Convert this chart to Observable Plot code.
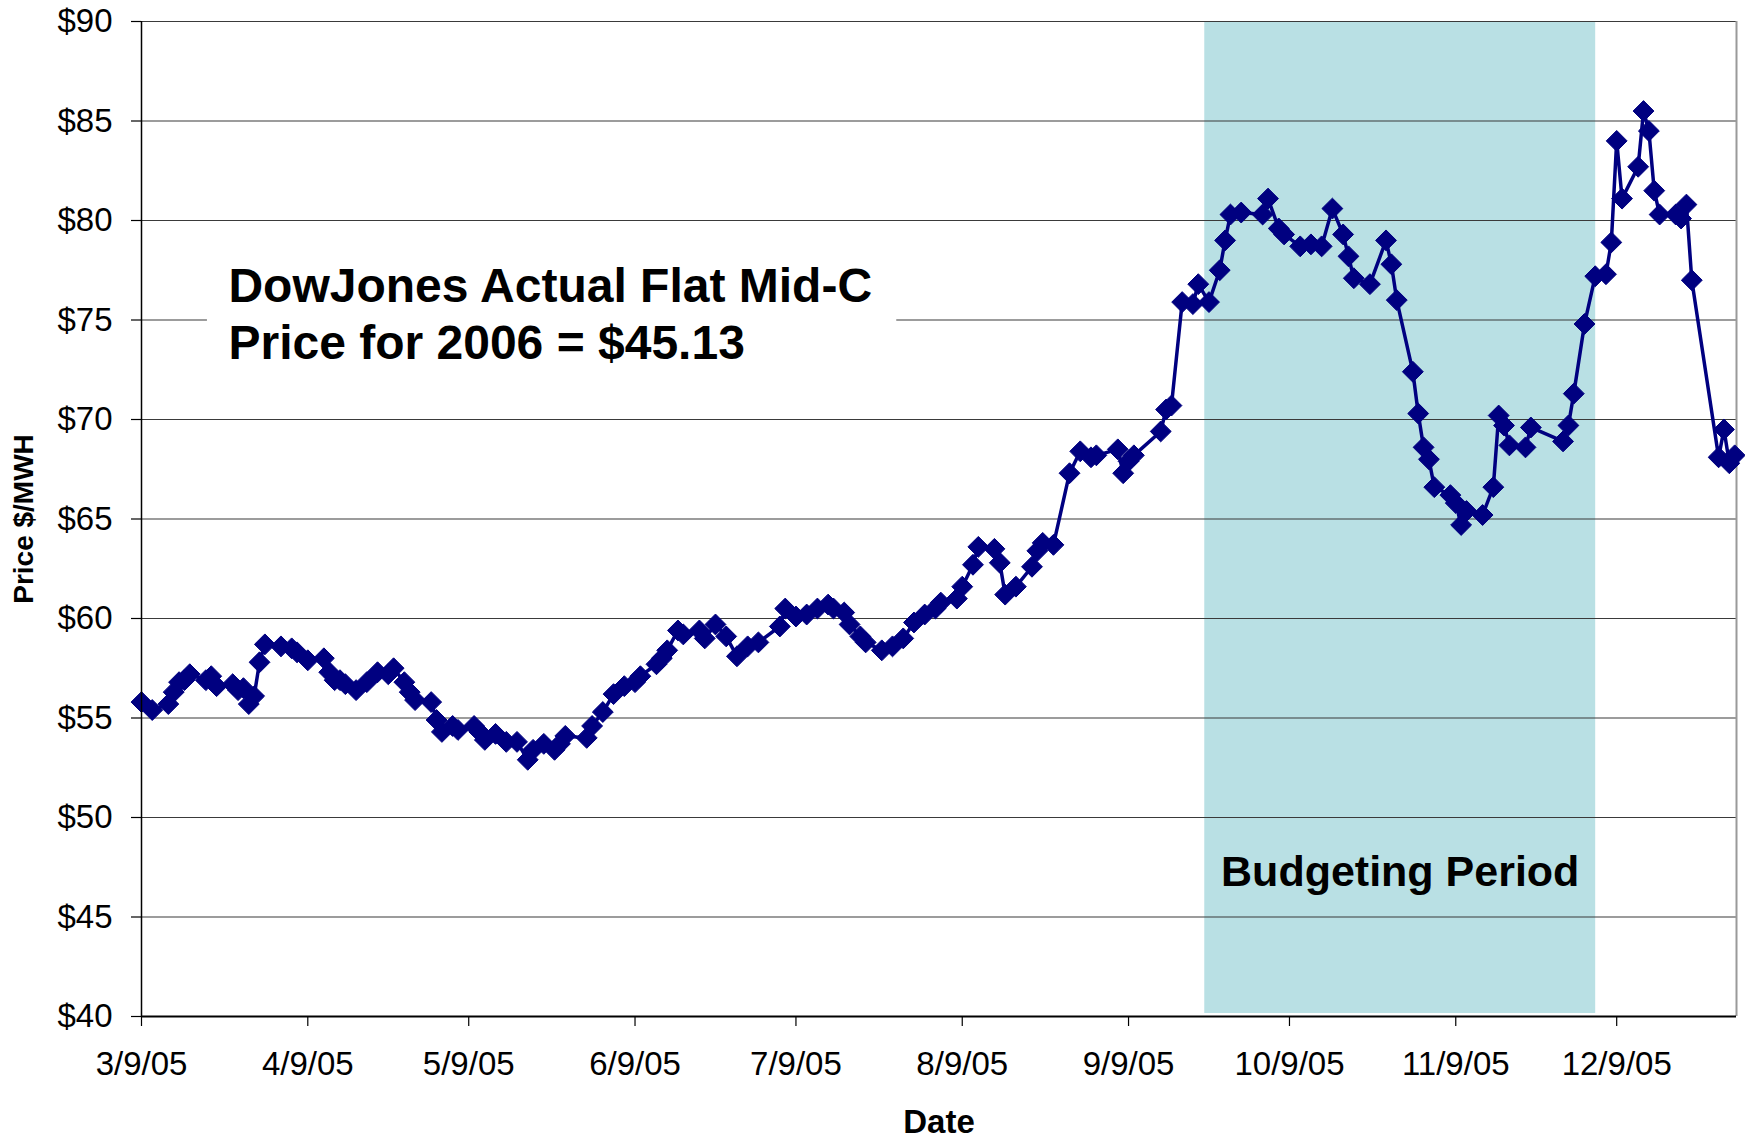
<!DOCTYPE html>
<html>
<head>
<meta charset="utf-8">
<script src="https://cdn.jsdelivr.net/npm/d3@7"></script>
<script src="https://cdn.jsdelivr.net/npm/@observablehq/plot@0.6"></script>
<style>
  html, body { margin: 0; padding: 0; background: #ffffff; }
  #chart svg { display: block; }
</style>
</head>
<body>
<div id="chart"></div>
<script>
// ---- Data ----
const dates = [
  "2005-03-09","2005-03-11","2005-03-14","2005-03-15","2005-03-16","2005-03-17","2005-03-18","2005-03-21","2005-03-22","2005-03-23","2005-03-26","2005-03-27","2005-03-28","2005-03-29","2005-03-30","2005-03-31",
  "2005-04-01","2005-04-04","2005-04-06","2005-04-07","2005-04-09","2005-04-12","2005-04-13","2005-04-14","2005-04-15","2005-04-16","2005-04-18","2005-04-20","2005-04-22","2005-04-24","2005-04-25","2005-04-27","2005-04-28","2005-04-29",
  "2005-05-02","2005-05-03","2005-05-04","2005-05-06","2005-05-07","2005-05-10","2005-05-11","2005-05-12","2005-05-14","2005-05-16","2005-05-18","2005-05-20","2005-05-21","2005-05-23","2005-05-25","2005-05-26","2005-05-27","2005-05-31",
  "2005-06-01","2005-06-03","2005-06-05","2005-06-07","2005-06-09","2005-06-10","2005-06-13","2005-06-14","2005-06-15","2005-06-17","2005-06-18","2005-06-21","2005-06-22","2005-06-24","2005-06-26","2005-06-28","2005-06-30",
  "2005-07-02","2005-07-06","2005-07-07","2005-07-09","2005-07-11","2005-07-13","2005-07-15","2005-07-16","2005-07-18","2005-07-19","2005-07-21","2005-07-22","2005-07-25","2005-07-27","2005-07-29","2005-07-31",
  "2005-08-02","2005-08-04","2005-08-05","2005-08-08","2005-08-09","2005-08-11","2005-08-12","2005-08-15","2005-08-16","2005-08-17","2005-08-19","2005-08-22","2005-08-23","2005-08-24","2005-08-26","2005-08-29","2005-08-31",
  "2005-09-02","2005-09-03","2005-09-07","2005-09-08","2005-09-09","2005-09-10","2005-09-15","2005-09-16","2005-09-17","2005-09-19","2005-09-21","2005-09-22","2005-09-24","2005-09-26","2005-09-27","2005-09-28","2005-09-30",
  "2005-10-04","2005-10-05","2005-10-07","2005-10-08","2005-10-11","2005-10-13","2005-10-15","2005-10-17","2005-10-19","2005-10-20","2005-10-21","2005-10-24","2005-10-27","2005-10-28","2005-10-29",
  "2005-11-01","2005-11-02","2005-11-03","2005-11-04","2005-11-05","2005-11-08","2005-11-09","2005-11-10","2005-11-11","2005-11-14","2005-11-16","2005-11-17","2005-11-18","2005-11-19","2005-11-22","2005-11-23","2005-11-29","2005-11-30",
  "2005-12-01","2005-12-03","2005-12-05","2005-12-07","2005-12-08","2005-12-09","2005-12-10","2005-12-13","2005-12-14","2005-12-15","2005-12-16","2005-12-17","2005-12-20","2005-12-21","2005-12-22","2005-12-23","2005-12-28","2005-12-29","2005-12-30","2005-12-31"
];
const prices = [
  55.8,55.4,55.7,56.3,56.8,56.9,57.2,56.9,57.1,56.6,56.7,56.4,56.5,55.7,56.1,57.8,
  58.7,58.6,58.5,58.3,57.9,58.0,57.3,56.9,56.9,56.7,56.4,56.8,57.3,57.2,57.5,56.8,56.3,55.9,
  55.8,54.9,54.3,54.6,54.4,54.6,54.3,53.9,54.2,53.8,53.8,52.9,53.4,53.7,53.4,53.7,54.1,54.0,
  54.6,55.3,56.2,56.6,56.8,57.1,57.7,58.0,58.4,59.4,59.2,59.4,59.0,59.7,59.1,58.1,58.6,
  58.8,59.6,60.5,60.1,60.2,60.5,60.7,60.5,60.3,59.7,59.1,58.8,58.4,58.6,59.0,59.8,
  60.2,60.5,60.8,61.0,61.6,62.7,63.6,63.5,62.8,61.2,61.6,62.6,63.4,63.8,63.7,67.3,68.4,
  68.1,68.2,68.5,67.3,67.9,68.2,69.4,70.5,70.7,75.9,75.8,76.8,75.9,77.5,79.0,80.3,80.4,
  80.3,81.1,79.6,79.3,78.7,78.8,78.7,80.6,79.3,78.2,77.1,76.8,79.0,77.8,76.0,
  72.4,70.3,68.6,68.0,66.6,66.2,65.8,64.7,65.4,65.2,66.6,70.2,69.7,68.7,68.6,69.6,68.9,69.7,
  71.3,74.8,77.2,77.3,78.9,84.0,81.1,82.7,85.5,84.5,81.5,80.3,80.3,80.1,80.8,77.0,68.1,69.5,67.8,68.2
];

const yTicks = [40, 45, 50, 55, 60, 65, 70, 75, 80, 85, 90];
const yTickLabels = ["$40","$45","$50","$55","$60","$65","$70","$75","$80","$85","$90"];
const xTickDates = ["2005-03-09","2005-04-09","2005-05-09","2005-06-09","2005-07-09","2005-08-09","2005-09-09","2005-10-09","2005-11-09","2005-12-09"];
const xTickLabels = ["3/9/05","4/9/05","5/9/05","6/9/05","7/9/05","8/9/05","9/9/05","10/9/05","11/9/05","12/9/05"];

const xStart = new Date("2005-03-09T00:00Z");
const xEnd = new Date("2005-12-31T08:00Z");
const budgetStart = new Date("2005-09-23T05:00Z");
const budgetEnd = new Date("2005-12-05T02:00Z");
const budgetLabel = "Budgeting Period";
const noteText = "DowJones Actual Flat Mid-C\nPrice for 2006 = $45.13";
const xTitle = "Date";
const yTitle = "Price $/MWH";

// ---- Build table ----
const data = dates.map((d, i) => ({date: new Date(d + "T00:00Z"), price: prices[i]}));
const xTickValues = xTickDates.map(d => new Date(d + "T00:00Z"));
const xLabelMap = new Map(xTickValues.map((d, i) => [+d, xTickLabels[i]]));
const yLabelMap = new Map(yTicks.map((v, i) => [v, yTickLabels[i]]));

const navy = "#000080";
const font = "'Liberation Sans', Arial, Helvetica, sans-serif";

// annotation placement (in data units)
const noteBox = {x1: new Date("2005-03-21T07:00Z"), x2: new Date("2005-07-27T19:00Z"), y1: 72.5, y2: 79.3};
const noteAnchor = {x: new Date("2005-03-25T05:00Z"), y: 75.4};
const budgetAnchor = {x: new Date((+budgetStart + +budgetEnd) / 2), y: 47.27};

const chart = Plot.plot({
  width: 1745,
  height: 1140,
  marginLeft: 141,
  marginRight: 9,
  marginTop: 21,
  marginBottom: 124,
  style: {fontFamily: font, background: "#ffffff", color: "#000000", overflow: "visible"},
  x: {type: "utc", domain: [xStart, xEnd]},
  y: {domain: [40, 90]},
  marks: [
    // budgeting period shading
    Plot.rect([{x1: budgetStart, x2: budgetEnd}], {x1: "x1", x2: "x2", y1: 40.15, y2: 90, fill: "#B9E0E4"}),
    // horizontal gridlines
    Plot.ruleY(yTicks.filter(v => v > 40), {stroke: "#3a3a3a", strokeWidth: 1.2}),
    // right border of plot area
    Plot.ruleX([xEnd], {stroke: "#9a9a9a", strokeWidth: 2}),
    // annotation box and text
    Plot.rect([noteBox], {x1: "x1", x2: "x2", y1: "y1", y2: "y2", fill: "#ffffff"}),
    Plot.text([noteAnchor], {x: "x", y: "y", text: () => noteText, textAnchor: "start", lineAnchor: "middle",
      lineHeight: 1.19, fontSize: 48, fontWeight: "bold", fill: "#000000"}),
    Plot.text([budgetAnchor], {x: "x", y: "y", text: () => budgetLabel, textAnchor: "middle", lineAnchor: "middle",
      fontSize: 43, fontWeight: "bold", fill: "#000000"}),
    // data series
    Plot.line(data, {x: "date", y: "price", stroke: navy, strokeWidth: 3.5, strokeLinejoin: "round"}),
    Plot.dot(data, {x: "date", y: "price", symbol: "diamond2", r: 9.4, fill: navy, stroke: navy, strokeWidth: 1}),
    // axes
    Plot.axisY({ticks: yTicks, tickFormat: v => yLabelMap.get(v), tickSize: 10, tickPadding: 19,
      fontSize: 33, label: null, stroke: "#000000", strokeWidth: 1.2}),
    Plot.axisX({ticks: xTickValues, tickFormat: d => xLabelMap.get(+d), tickSize: 10, tickPadding: 25,
      fontSize: 33, label: null, stroke: "#000000", strokeWidth: 1.2}),
    Plot.ruleX([xStart], {stroke: "#000000", strokeWidth: 1.5}),
    Plot.ruleY([40], {stroke: "#000000", strokeWidth: 2.2}),
    // axis titles
    Plot.text([xTitle], {frameAnchor: "bottom", dy: 106, text: d => d, fontSize: 33, fontWeight: "bold", lineAnchor: "middle", textAnchor: "middle"}),
    Plot.text([yTitle], {frameAnchor: "left", dx: -117, rotate: -90, text: d => d, fontSize: 28, fontWeight: "bold", lineAnchor: "middle", textAnchor: "middle"})
  ]
});

document.getElementById("chart").appendChild(chart);
</script>
</body>
</html>
